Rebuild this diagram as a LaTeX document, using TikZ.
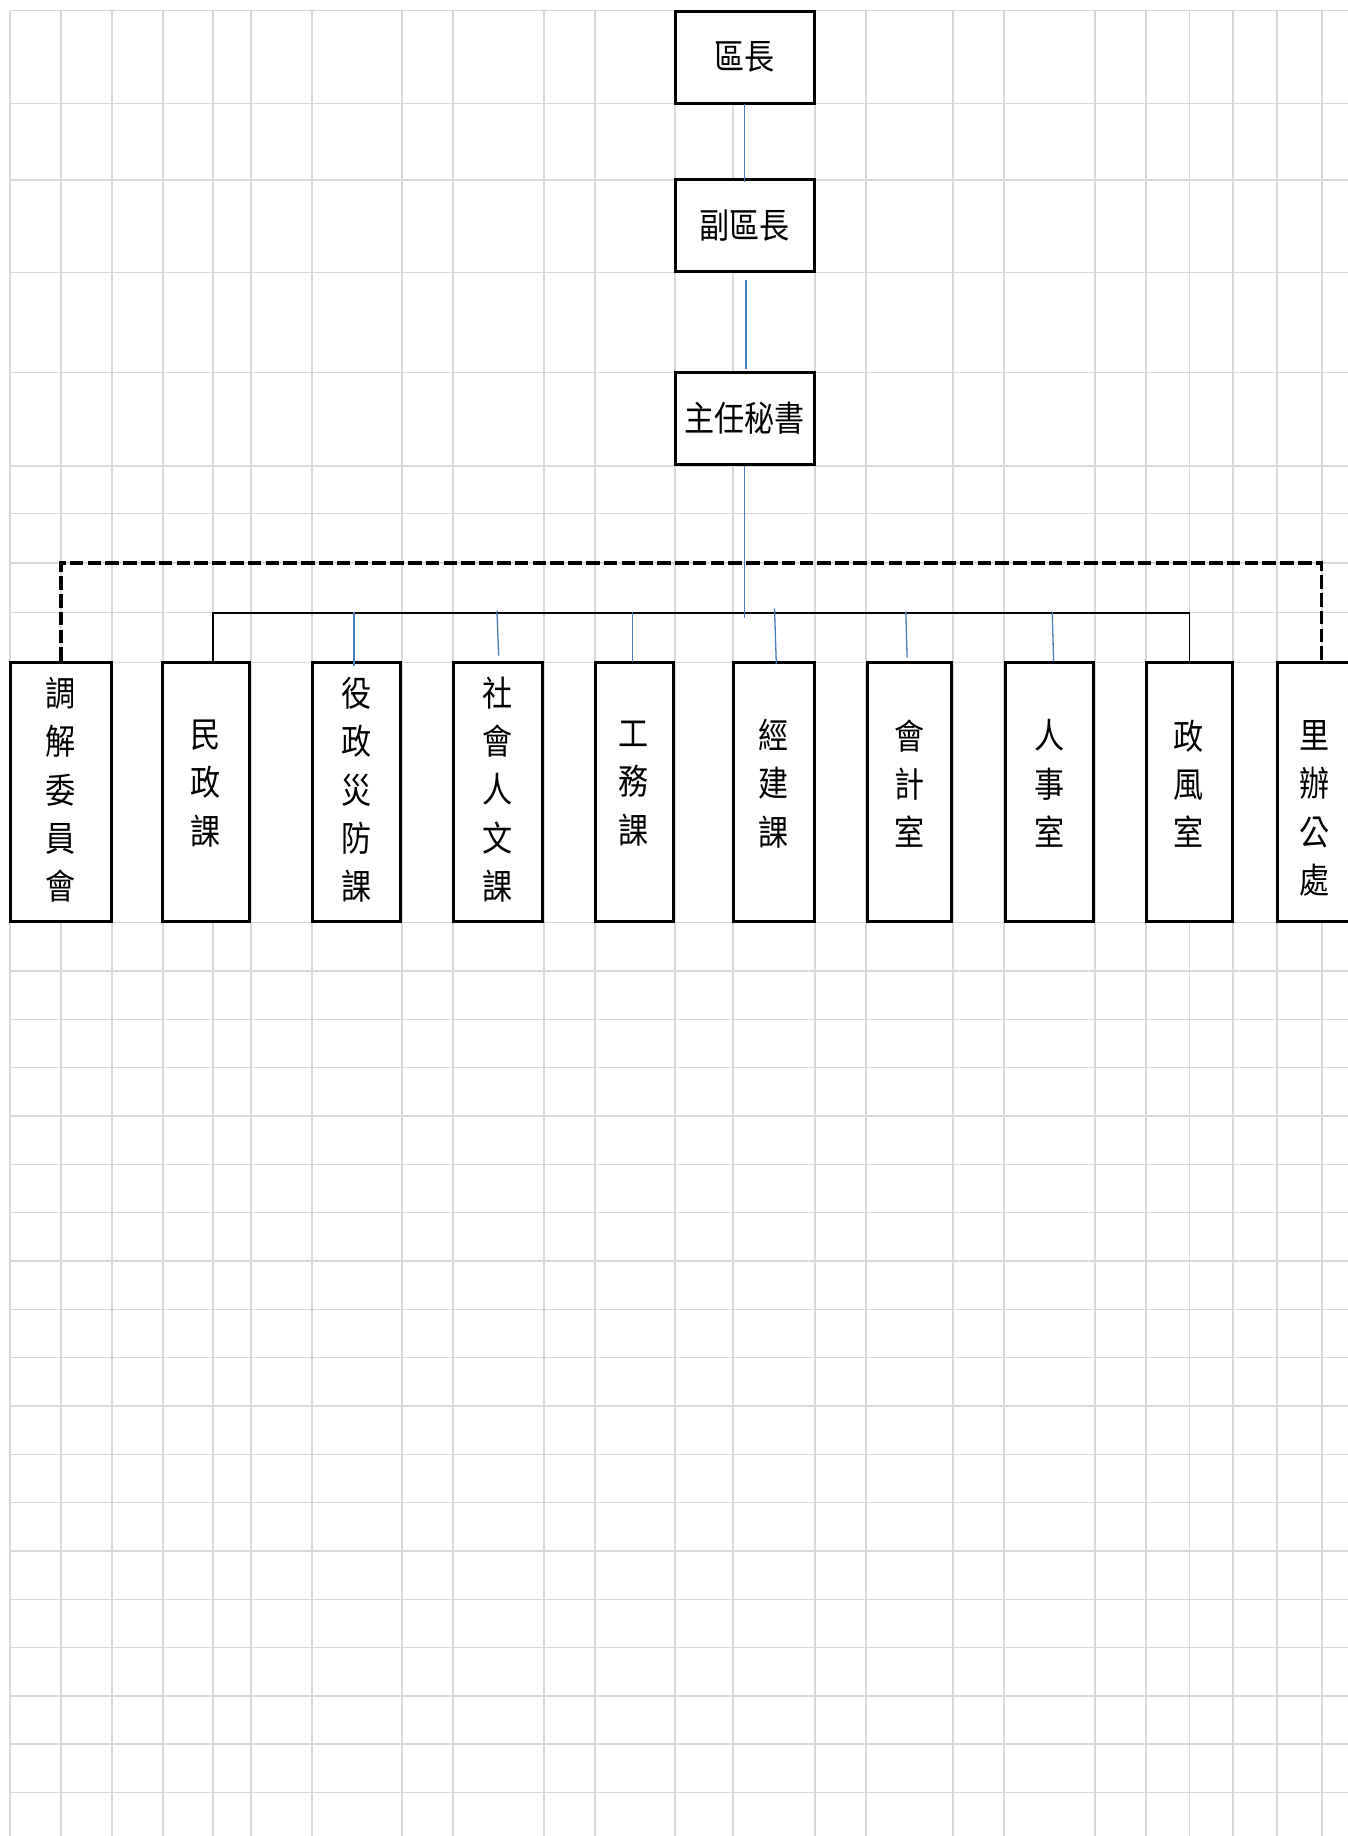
\documentclass[tikz,border=0pt]{standalone}
\usepackage{fontspec}
\usetikzlibrary{calc}
\newfontfamily\cjkfont[FakeStretch=0.86]{Noto Sans CJK TC}
\definecolor{gridgray}{RGB}{217,217,217}
\definecolor{connblue}{RGB}{74,126,187}
% #1 style, #2 name, #3 x1, #4 y1, #5 x2, #6 y2, #7 text
\newcommand\orgbox[7]{%
  \pgfmathsetmacro\obW{(#5-#3)*0.5}%
  \pgfmathsetmacro\obH{(#6-#4)*0.5}%
  \node[#1, minimum width=\obW pt, minimum height=\obH pt] (#2) at ({(#3+#5)/2},{(#4+#6)/2}) {#7};}
\begin{document}
\begin{tikzpicture}[x=0.5pt,y=-0.5pt,
  gridline/.style={draw=gridgray,line width=0.7pt},
  orgframe/.style={draw=black,fill=white,line width=1.5pt,inner sep=0pt},
  cjktext/.style={font=\cjkfont\fontsize{17.5pt}{24.15pt}\selectfont,align=center,inner sep=0pt},
  solidconn/.style={draw=black,line width=0.85pt},
  dashconn/.style={draw=black,line width=1.75pt,dash pattern=on 6.8pt off 2.1pt},
  blueconn/.style={draw=connblue,line width=0.65pt}]
\useasboundingbox[fill=white] (0,0) rectangle (1348,1836);

% grid
\foreach \gx in {10,61,112,163,213,251,312,402,453,544,595,675,733,815,866,953,1004,1095,1146,1189.5,1233,1277,1322}
  \draw[gridline] (\gx,10.7) -- (\gx,1836);
\foreach \gy in {10.7,103.3,180,272.7,372.7,466,513.5,563,612.7,662.7}
  \draw[gridline] (10,\gy) -- (1348,\gy);
\foreach \k in {0,...,18}
  \draw[gridline] (10,{922.7+48.32*\k}) -- (1348,{922.7+48.32*\k});

% top boxes
\orgbox{orgframe,cjktext}{qz}{675}{11}{814}{103}{區長}
\orgbox{orgframe,cjktext}{fqz}{675}{179}{814}{271.5}{副區長}
\orgbox{orgframe,cjktext}{zr}{675}{372.3}{814}{464.5}{主任秘書}

% bottom boxes
\orgbox{orgframe}{tj}{10.5}{662.5}{111}{921.5}{}
\orgbox{orgframe}{mz}{162.5}{662.5}{249}{921.5}{}
\orgbox{orgframe}{yz}{312.5}{662.5}{400.5}{921.5}{}
\orgbox{orgframe}{sh}{453.3}{662.5}{542}{921.5}{}
\orgbox{orgframe}{gw}{595}{662.5}{673}{921.5}{}
\orgbox{orgframe}{jj}{733}{662.5}{814}{921.5}{}
\orgbox{orgframe}{kj}{867.3}{662.5}{951.4}{921.5}{}
\orgbox{orgframe}{rs}{1005}{662.5}{1093.7}{921.5}{}
\orgbox{orgframe}{zf}{1146}{662.5}{1232}{921.5}{}
\orgbox{orgframe}{lb}{1277}{662.5}{1356}{921.5}{}

% dashed connector
\coordinate (dl) at (61,563);
\coordinate (dr) at (1321.5,563);
\draw[dashconn] (dl |- tj.north) -- (dl) -- (dr) -- (dr |- lb.north);

% solid connector
\coordinate (jl) at (213,612.7);
\coordinate (jr) at (1189.5,612.7);
\draw[solidconn] (jl |- mz.north) -- (jl) -- (jr) -- (jr |- zf.north);

% blue connectors
\draw[blueconn] ($(qz.south)+(0,-0.5)$) -- ($(fqz.north)+(0,4.3)$);
\draw[blueconn] ($(fqz.south)+(1.5,7)$) -- ($(zr.north)+(1.5,-2)$);
\draw[blueconn] (zr.south) -- ++(0,152);
\draw[blueconn] ($(yz.north)+(-2.5,-49.5)$) -- ($(yz.north)+(-2.5,4.5)$);
\draw[blueconn] ($(sh.north)+(-0.7,-50.5)$) -- ($(sh.north)+(1,-5.5)$);
\draw[blueconn] ($(gw.north)+(-1.4,-49.5)$) -- ($(gw.north)+(-1.4,0.5)$);
\draw[blueconn] ($(jj.north)+(1,-52.5)$) -- ($(jj.north)+(2.8,2.5)$);
\draw[blueconn] ($(kj.north)+(-3.55,-49.5)$) -- ($(kj.north)+(-2.25,-3.5)$);
\draw[blueconn] ($(rs.north)+(2.85,-49.5)$) -- ($(rs.north)+(4.25,0.5)$);

% vertical texts
\node[cjktext] (ttj) at (tj |- 0,790) {調\\解\\委\\員\\會};
\node[cjktext] (tmz) at (mz |- 0,783.5) {民\\政\\課};
\node[cjktext] (tyz) at (yz |- 0,790) {役\\政\\災\\防\\課};
\node[cjktext] (tsh) at (sh |- 0,789.5) {社\\會\\人\\文\\課};
\node[cjktext] (tgw) at (gw |- 0,783.5) {工\\務\\課};
\node[cjktext] (tjj) at (jj |- 0,783.5) {經\\建\\課};
\node[cjktext] (tkj) at (kj |- 0,783.5) {會\\計\\室};
\node[cjktext] (trs) at (rs |- 0,783.5) {人\\事\\室};
\node[cjktext] (tzf) at (zf |- 0,783.5) {政\\風\\室};
\node[cjktext] (tlb) at ([xshift=-0.75pt]lb |- 0,808.5) {里\\辦\\公\\處};
\end{tikzpicture}
\end{document}
